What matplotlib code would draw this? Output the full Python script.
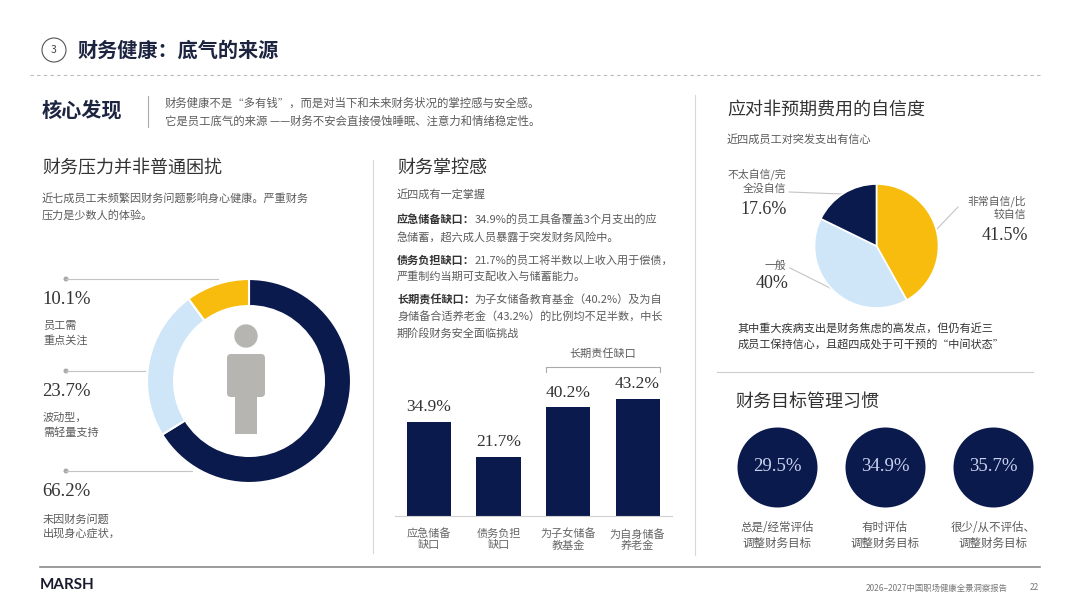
import matplotlib
matplotlib.use('Agg')
import matplotlib.pyplot as plt
from matplotlib.patches import Circle, Rectangle, FancyBboxPatch

plt.rcParams['font.family'] = ['Noto Sans CJK SC', 'DejaVu Sans']

NAVY = '#0b1a4c'
YELLOW = '#f7bc0d'
LBLUE = '#cfe6f8'
TXT = '#333333'
GTXT = '#5c5c5c'
SERIF = ['Liberation Serif', 'DejaVu Serif']

# ---- data ----
stress_vals = [66.2, 23.7, 10.1]                      # navy, light blue, yellow
stress_labels = ['10.1%', '23.7%', '66.2%']          # top to bottom on the page
stress_desc = ['员工需\n重点关注', '波动型，\n需轻量支持', '未因财务问题\n出现身心症状，']

gap_names = ['应急储备\n缺口', '债务负担\n缺口', '为子女储备\n教基金', '为自身储备\n养老金']
gap_vals = [34.9, 21.7, 40.2, 43.2]

conf_vals = [41.5, 40.0, 17.6]
conf_names = ['非常自信/比\n较自信', '一般', '不太自信/完\n全没自信']

goal_vals = [29.5, 34.9, 35.7]
goal_names = ['总是/经常评估\n调整财务目标', '有时评估\n调整财务目标', '很少/从不评估、\n调整财务目标']

W, H = 1080, 608
fig = plt.figure(figsize=(W / 100, H / 100), dpi=100)
bg = fig.add_axes([0, 0, 1, 1])
bg.set_xlim(0, W)
bg.set_ylim(H, 0)
bg.axis('off')


def box(x0, y0, x1, y1):
    return [x0 / W, 1 - y1 / H, (x1 - x0) / W, (y1 - y0) / H]


def line(x0, y0, x1, y1, c='#cccccc', lw=0.8, **kw):
    bg.plot([x0, x1], [y0, y1], color=c, lw=lw, **kw)


# ---- header ----
bg.add_patch(Circle((54, 50), 12, fill=False, ec='#555555', lw=0.8))
bg.text(54, 50, '3', fontsize=7.5, color='#444444', ha='center', va='center')
bg.text(78, 50, '财务健康：底气的来源', fontsize=14.5, fontweight='bold', color='#1c2440', va='center')
line(30, 75, 1040, 75, c='#bbbbbb', lw=0.8, ls=(0, (3, 3)))
bg.text(42, 110, '核心发现', fontsize=14.5, fontweight='bold', color='#1c2440', va='center')
line(148, 96, 148, 127, c='#aaaaaa')
bg.text(165, 103, '财务健康不是“多有钱”，而是对当下和未来财务状况的掌控感与安全感。', fontsize=8.2, color=GTXT, va='center')
bg.text(165, 121, '它是员工底气的来源 ——财务不安会直接侵蚀睡眠、注意力和情绪稳定性。', fontsize=8.2, color=GTXT, va='center')

# separators
line(373, 160, 373, 553, c='#d8d8d8')
line(695, 95, 695, 555, c='#d8d8d8')
line(717, 372, 1033, 372, c='#cccccc')
line(40, 567, 1040, 567, c='#8a8a8a', lw=1.2)

# footer
bg.text(40, 585, 'MARSH', fontsize=11, fontweight='bold', family=['Lato', 'DejaVu Sans'], color='#1a1a2e', va='center')
bg.text(1008, 588, '2026–2027中国职场健康全景洞察报告', fontsize=6, color='#777777', ha='right', va='center')
bg.text(1030, 588, '22', fontsize=6, color='#777777', va='center')

# ---- left: financial stress donut ----
bg.text(42, 168, '财务压力并非普通困扰', fontsize=13, fontweight='light', color=TXT, va='center')
bg.text(42, 198, '近七成员工未频繁因财务问题影响身心健康。严重财务', fontsize=8, color=GTXT, va='center')
bg.text(42, 215, '压力是少数人的体验。', fontsize=8, color=GTXT, va='center')

ax1 = fig.add_axes(box(147, 279, 351, 483))
ax1.pie(stress_vals, colors=[NAVY, LBLUE, YELLOW], startangle=90, counterclock=False,
        wedgeprops=dict(width=0.265, edgecolor='white', linewidth=1.5))
ax1.set_xlim(-1, 1)
ax1.set_ylim(-1, 1)
ax1.axis('off')

# person icon
PG = '#b7b5b2'
bg.add_patch(Circle((246, 336), 11, color=PG))
bg.add_patch(FancyBboxPatch((227, 354), 38, 43, boxstyle='round,pad=0,rounding_size=4', color=PG, lw=0))
bg.add_patch(Rectangle((235, 396), 22, 38, color=PG, lw=0))

lead_y = [279, 371, 471]
lead_x1 = [218, 145, 192]
num_y = [299, 391, 492]
for ly, lx, ny, lab, desc in zip(lead_y, lead_x1, num_y, stress_labels, stress_desc):
    line(66, ly, lx, ly, c='#c4c4c4')
    bg.add_patch(Circle((66, ly), 1.8, color='#aaaaaa'))
    bg.text(42, ny, lab, fontsize=13.5, family=SERIF, color=TXT, va='center')
    bg.text(43, ny + 22, desc, fontsize=8, color=GTXT, va='top', linespacing=1.45)

# ---- middle: financial control bars ----
bg.text(397, 168, '财务掌控感', fontsize=13, fontweight='light', color=TXT, va='center')
bg.text(397, 194, '近四成有一定掌握', fontsize=8, color=GTXT, va='center')


def mixed(x, y, head, rest):
    t = bg.text(x, y, head, fontsize=8, fontweight='bold', color=TXT, va='center')
    bg.annotate(rest, xy=(1, 0.5), xycoords=t, fontsize=8, color=GTXT, va='center')


mixed(397, 220, '应急储备缺口：', '34.9%的员工具备覆盖3个月支出的应')
bg.text(397, 237, '急储蓄，超六成人员暴露于突发财务风险中。', fontsize=8, color=GTXT, va='center')
mixed(397, 260, '债务负担缺口：', '21.7%的员工将半数以上收入用于偿债，')
bg.text(397, 277, '严重制约当期可支配收入与储蓄能力。', fontsize=8, color=GTXT, va='center')
mixed(397, 300, '长期责任缺口：', '为子女储备教育基金（40.2%）及为自')
bg.text(397, 316, '身储备合适养老金（43.2%）的比例均不足半数，中长', fontsize=8, color=GTXT, va='center')
bg.text(397, 333, '期阶段财务安全面临挑战', fontsize=8, color=GTXT, va='center')

ax2 = fig.add_axes(box(395, 376, 672, 516))
xs = range(len(gap_vals))
bw = 44 / 69.5
ax2.bar(xs, gap_vals, width=bw, color=NAVY)
ax2.set_xlim(-0.489, 3.496)
ax2.set_ylim(0, 140 / 2.7)
for i, v in zip(xs, gap_vals):
    ax2.annotate(f'{v}%', (i, v), xytext=(0, 5), textcoords='offset points', ha='center', va='bottom',
                 fontsize=12.5, family=SERIF, color=TXT)
ax2.set_xticks(list(xs))
ax2.set_xticklabels(gap_names, fontsize=8, color='#666666', linespacing=1.1)
ax2.tick_params(axis='x', length=0, pad=9)
ax2.set_yticks([])
for s in ['top', 'right', 'left']:
    ax2.spines[s].set_visible(False)
ax2.spines['bottom'].set_color('#d0d0d0')
ax2.spines['bottom'].set_linewidth(0.8)
ax2.patch.set_visible(False)
# bracket over the long-term pair
by = (516 - 367) / 2.7
bt = (516 - 372) / 2.7
bx0, bx1 = 2 - bw / 2, 3 + bw / 2
ax2.plot([bx0, bx0, bx1, bx1], [bt, by, by, bt], color='#aaaaaa', lw=0.8, clip_on=False)
ax2.text(2.5, by + 13 / 2.7, '长期责任缺口', fontsize=8, color=GTXT, ha='center', va='center')

# ---- right top: confidence pie ----
bg.text(727, 110, '应对非预期费用的自信度', fontsize=13, fontweight='light', color=TXT, va='center')
bg.text(727, 139, '近四成员工对突发支出有信心', fontsize=8, color=GTXT, va='center')

ax3 = fig.add_axes(box(814.5, 184, 938.5, 308))
ax3.pie(conf_vals, colors=[YELLOW, LBLUE, NAVY], startangle=90, counterclock=False,
        wedgeprops=dict(edgecolor='white', linewidth=1.2))
ax3.set_xlim(-1, 1)
ax3.set_ylim(-1, 1)
ax3.axis('off')

# labels
bg.text(1026, 208, conf_names[0], fontsize=7.8, color=GTXT, ha='right', va='center', linespacing=1.3)
bg.text(1028, 236, f'{conf_vals[0]}%', fontsize=13, family=SERIF, color=TXT, ha='right', va='center')
line(958, 207, 937, 229, c='#c4c4c4')
bg.text(786, 266, conf_names[1], fontsize=7.8, color=GTXT, ha='right', va='center')
bg.text(788, 283, f'{conf_vals[1]:.0f}%', fontsize=13, family=SERIF, color=TXT, ha='right', va='center')
line(790, 268, 834, 290, c='#c4c4c4')
bg.text(786, 181, conf_names[2], fontsize=7.8, color=GTXT, ha='right', va='center', linespacing=1.3)
bg.text(787, 209, f'{conf_vals[2]}%', fontsize=13, family=SERIF, color=TXT, ha='right', va='center')
line(789, 192, 842, 194, c='#c4c4c4')

bg.text(738, 328, '其中重大疾病支出是财务焦虑的高发点，但仍有近三', fontsize=8, color=TXT, va='center')
bg.text(738, 344, '成员工保持信心，且超四成处于可干预的“中间状态”', fontsize=8, color=TXT, va='center')

# ---- right bottom: goal habits ----
bg.text(735, 402, '财务目标管理习惯', fontsize=13, fontweight='light', color=TXT, va='center')
ax4 = fig.add_axes(box(717, 427, 1053, 507))
gx = list(range(len(goal_vals)))
ax4.scatter(gx, [0] * len(gx), s=(80 * 0.72) ** 2, color=NAVY, lw=0)
ax4.set_xlim(-0.556, 2.556)
ax4.set_ylim(-1, 1)
ax4.axis('off')
for i, v, name in zip(gx, goal_vals, goal_names):
    ax4.text(i, 0.02, f'{v}%', fontsize=13.5, family=SERIF, color='#c9d2f0', ha='center', va='center')
    ax4.text(i, -1.71, name, fontsize=8.3, color=GTXT, ha='center', va='center', linespacing=1.3,
             clip_on=False)

fig.savefig('out.png', dpi=100, facecolor='white')
